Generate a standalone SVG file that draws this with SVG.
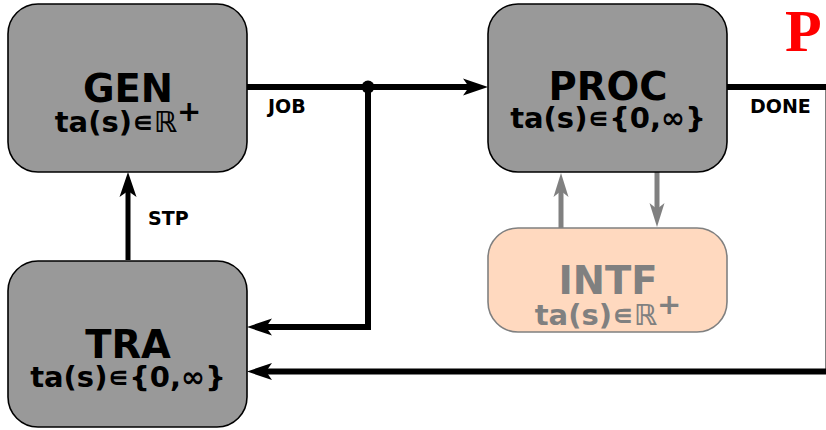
<svg xmlns="http://www.w3.org/2000/svg" width="826" height="430" viewBox="0 0 826 430">
<style>
.box{fill:#999999;stroke:#000;stroke-width:1.6}
.ibox{fill:#ffd9bf;stroke:#808080;stroke-width:1.6}
.t1{font-family:"DejaVu Sans",sans-serif;font-weight:bold;font-size:38.5px;text-anchor:middle;fill:#000}
.t2{font-family:"DejaVu Sans",sans-serif;font-weight:bold;font-size:29px;text-anchor:middle;fill:#000}
.gray{fill:#808080}
.lbl{font-family:"DejaVu Sans",sans-serif;font-weight:bold;font-size:19px;fill:#000}
.ln{fill:none;stroke:#000;stroke-width:6}
.gl{fill:none;stroke:#808080;stroke-width:5}
</style>
<defs>
<marker id="ah" markerUnits="userSpaceOnUse" viewBox="-12 -10 28 20" refX="0" refY="0" markerWidth="28" markerHeight="20" orient="auto" overflow="visible">
<path d="M14,0 L-11,-8.5 L-5,0 L-11,8.5 Z" fill="#000"/>
</marker>
<marker id="gah" markerUnits="userSpaceOnUse" viewBox="-12 -10 28 20" refX="0" refY="0" markerWidth="28" markerHeight="20" orient="auto" overflow="visible">
<path d="M12,0 L-12,-7.5 L-6,0 L-12,7.5 Z" fill="#808080"/>
</marker>
</defs>
<text x="785" y="51" font-family="Liberation Serif,serif" font-weight="bold" font-size="60" fill="#ff0000">P</text>
<g id="connectors">
<path class="ln" d="M247,87 H474" marker-end="url(#ah)"/>
<path class="ln" d="M368,87 V327 H261" marker-end="url(#ah)"/>
<circle cx="368" cy="87" r="6.5" fill="#000"/>
<path class="ln" d="M727,87 H828.5 V371.5 H261" marker-end="url(#ah)"/>
<path class="ln" d="M128,260 V186" style="stroke-width:5" marker-end="url(#ah)"/>
<path class="gl" d="M561,228 V185" marker-end="url(#gah)"/>
<path class="gl" d="M657,172 V215" marker-end="url(#gah)"/>
<text class="lbl" x="268" y="113">JOB</text>
<text class="lbl" x="750" y="113">DONE</text>
<text class="lbl" x="148" y="225">STP</text>
</g>
<g id="GEN">
<rect class="box" x="8" y="4" width="239" height="168" rx="30"/>
<text class="t1" x="128" y="102">GEN</text>
<text class="t2" x="128" y="132">ta(s)∊ℝ<tspan dy="-11">+</tspan></text>
</g>
<g id="PROC">
<rect class="box" x="488" y="4" width="239" height="168" rx="30"/>
<text class="t1" x="608" y="100">PROC</text>
<text class="t2" x="608" y="128">ta(s)∊{0,∞}</text>
</g>
<g id="INTF">
<rect class="ibox" x="488" y="228" width="239" height="104" rx="30"/>
<text class="t1 gray" x="608" y="294">INTF</text>
<text class="t2 gray" x="608" y="325">ta(s)∊ℝ<tspan dy="-11">+</tspan></text>
</g>
<g id="TRA">
<rect class="box" x="8" y="261" width="239" height="166" rx="30"/>
<text class="t1" x="128" y="358">TRA</text>
<text class="t2" x="128" y="387">ta(s)∊{0,∞}</text>
</g>
</svg>
